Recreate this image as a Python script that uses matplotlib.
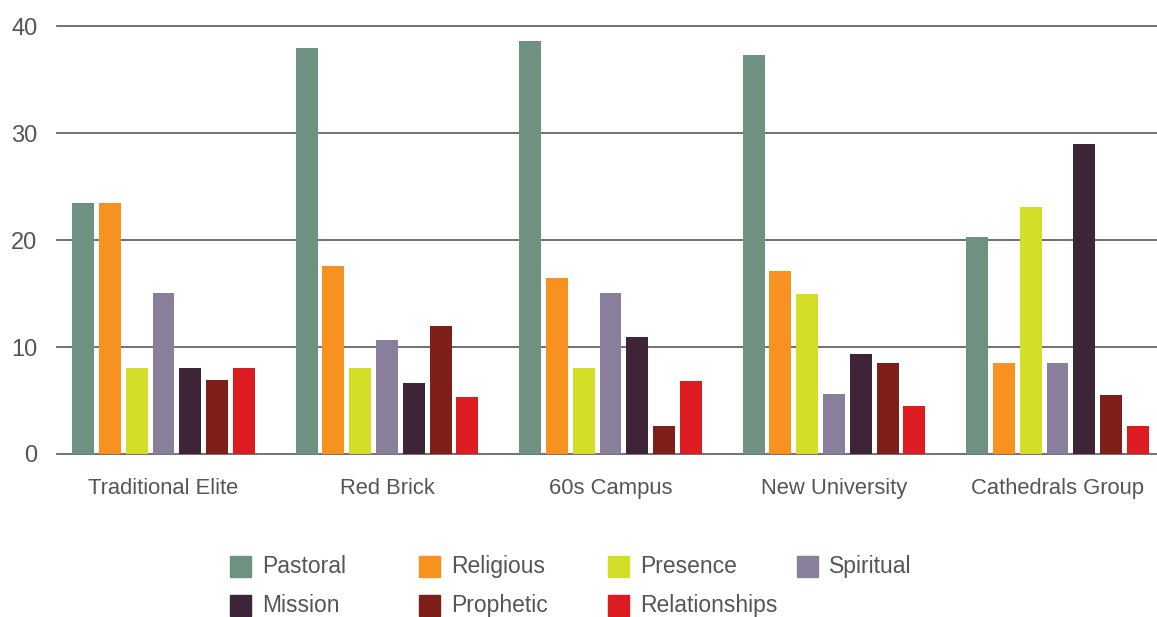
import numpy as np
import matplotlib.pyplot as plt
from matplotlib.patches import Rectangle

groups = ['Traditional Elite', 'Red Brick', '60s Campus', 'New University', 'Cathedrals Group']
series = ['Pastoral', 'Religious', 'Presence', 'Spiritual', 'Mission', 'Prophetic', 'Relationships']
colors = ['#6e9180', '#f79120', '#d2de27', '#8a7f9a', '#3d2436', '#7f1f19', '#dd1c22']

pastoral = [23.5, 38.0, 38.6, 37.3, 20.3]
religious = [23.5, 17.6, 16.5, 17.1, 8.5]
presence = [8.0, 8.0, 8.0, 15.0, 23.1]
spiritual = [15.1, 10.65, 15.1, 5.6, 8.5]
mission = [8.0, 6.6, 10.9, 9.35, 29.0]
prophetic = [6.9, 12.0, 2.6, 8.5, 5.5]
relationships = [8.0, 5.3, 6.8, 4.5, 2.6]
values = [pastoral, religious, presence, spiritual, mission, prophetic, relationships]

yticks = [0, 10, 20, 30, 40]

plt.rcParams['font.family'] = ['Liberation Sans', 'DejaVu Sans']
txt = '#555555'

fig = plt.figure(figsize=(11.57, 6.17), dpi=100)
ax = fig.add_axes([57 / 1157, 163 / 617, 1100 / 1157, 427.7 / 617])

x = np.arange(len(groups))
step = 0.12
width = 0.0984
for i, (name, vals, c) in enumerate(zip(series, values, colors)):
    ax.bar(x + (i - 3) * step, vals, width, color=c, zorder=3, label=name)

ax.set_xlim(-0.4765, 4.4452)
ax.set_ylim(0, 40)
ax.set_yticks(yticks)
ax.set_xticks(x)
ax.set_xticklabels(groups)
ax.tick_params(length=0, colors=txt)
ax.tick_params(axis='x', pad=17, labelsize=15.8)
ax.tick_params(axis='y', pad=14, labelsize=17)
for s in ax.spines.values():
    s.set_visible(False)
ax.yaxis.grid(True, color='#666666', linewidth=1.3, zorder=1)
for gl in ax.get_ygridlines():
    gl.set_clip_on(False)

# legend in a fixed 4-column grid
col_x = [230, 419, 608, 797]
row_y = [566.5, 605.5]
W, H = 1157, 617
for i, (name, c) in enumerate(zip(series, colors)):
    cx = col_x[i % 4]
    cy = row_y[i // 4]
    fig.add_artist(Rectangle(((cx) / W, 1 - (cy + 10.5) / H), 21 / W, 21 / H,
                             transform=fig.transFigure, color=c))
    fig.text((cx + 32) / W, 1 - cy / H, name, fontsize=16.5, color=txt, va='center', ha='left')

fig.savefig('out.png', dpi=100)
